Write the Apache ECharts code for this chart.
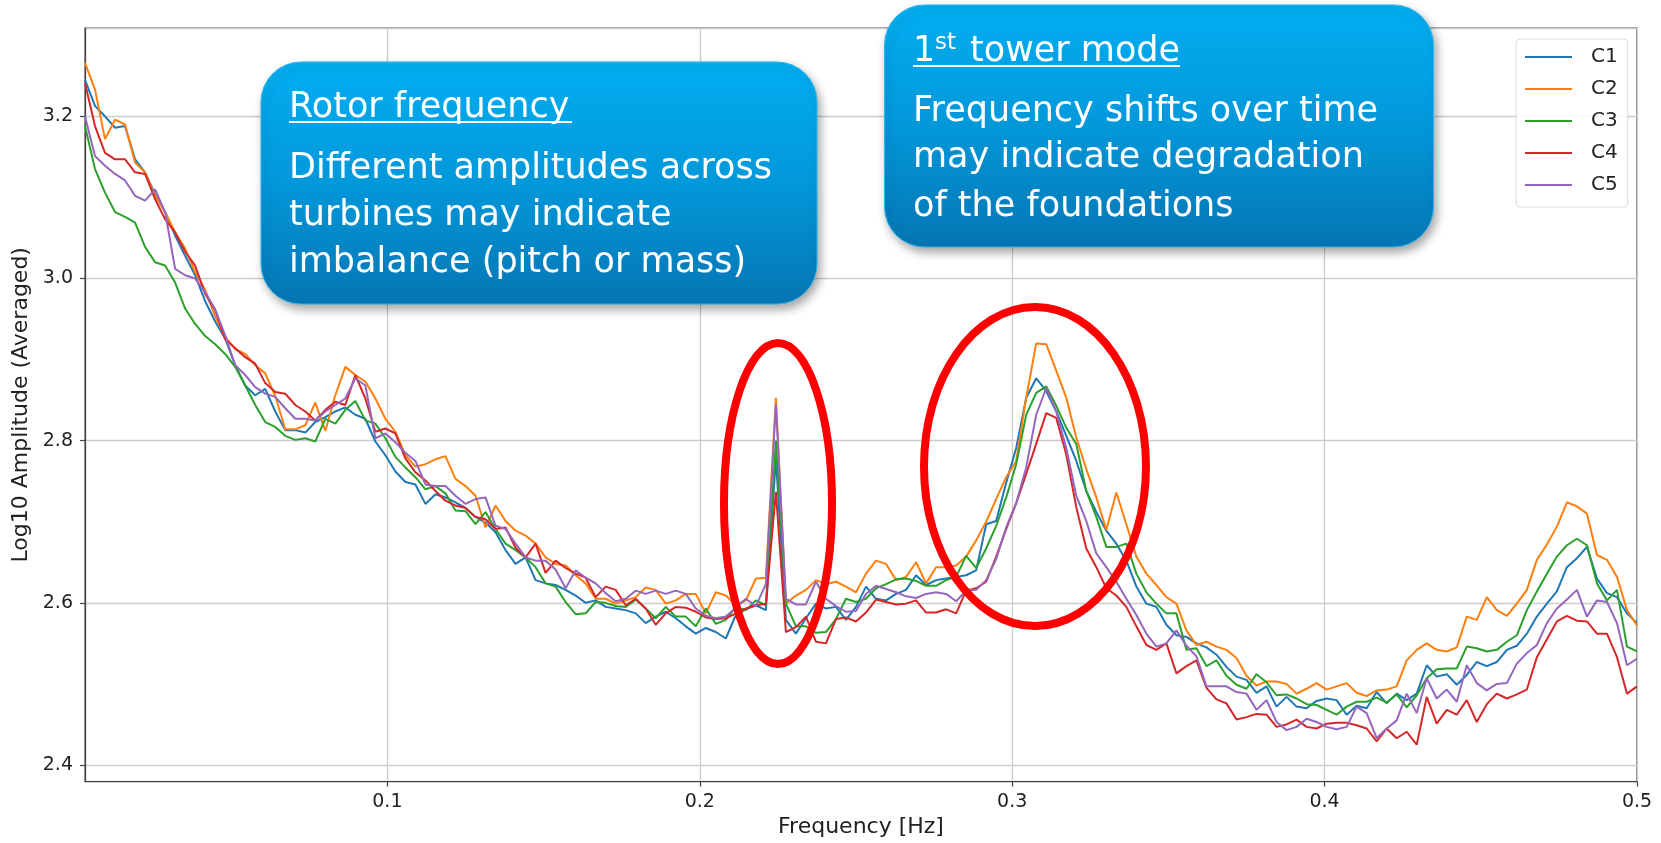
<!DOCTYPE html>
<html>
<head>
<meta charset="utf-8">
<script src="https://cdn.jsdelivr.net/npm/echarts@6/dist/echarts.min.js"></script>
<style>
html,body{margin:0;padding:0;background:#ffffff;}
#chart{width:1661px;height:843px;}
</style>
</head>
<body>
<div id="chart"></div>
<script>
// ---------------- data ----------------
const seriesNames = ['C1', 'C2', 'C3', 'C4', 'C5'];
const seriesColors = ['#1f77b4', '#ff7f0e', '#2ca02c', '#d62728', '#9467bd'];
const binWidth = 1 / 312;          // frequency resolution [Hz]
const xMax = 0.5;                   // Nyquist [Hz]

const C1 = [
3.245, 3.213, 3.200, 3.186, 3.188, 3.147, 3.131, 3.104, 3.082, 3.053,
3.028, 3.004, 2.972, 2.947, 2.926, 2.893, 2.868, 2.856, 2.864, 2.836,
2.813, 2.813, 2.810, 2.823, 2.829, 2.836, 2.841, 2.832, 2.827, 2.799,
2.782, 2.762, 2.749, 2.746, 2.722, 2.734, 2.730, 2.724, 2.717, 2.706,
2.699, 2.687, 2.665, 2.648, 2.656, 2.628, 2.624, 2.622, 2.616, 2.609,
2.600, 2.603, 2.595, 2.593, 2.591, 2.587, 2.575, 2.583, 2.589, 2.581,
2.571, 2.562, 2.569, 2.564, 2.556, 2.585, 2.592, 2.597, 2.591, 2.778,
2.579, 2.562, 2.581, 2.599, 2.593, 2.595, 2.579, 2.595, 2.620, 2.605,
2.603, 2.611, 2.616, 2.634, 2.622, 2.628, 2.630, 2.632, 2.634, 2.640,
2.697, 2.701, 2.748, 2.791, 2.853, 2.877, 2.861, 2.836, 2.806, 2.775,
2.738, 2.712, 2.689, 2.673, 2.652, 2.620, 2.599, 2.595, 2.573, 2.560,
2.558, 2.550, 2.545, 2.536, 2.521, 2.509, 2.505, 2.489, 2.497, 2.472,
2.484, 2.472, 2.470, 2.479, 2.482, 2.480, 2.462, 2.473, 2.470, 2.490,
2.476, 2.488, 2.480, 2.488, 2.523, 2.509, 2.512, 2.499, 2.511, 2.527,
2.522, 2.527, 2.542, 2.547, 2.562, 2.583, 2.599, 2.614, 2.644, 2.655,
2.669, 2.630, 2.612, 2.607, 2.587, 2.575
];
const C2 = [
3.266, 3.233, 3.172, 3.196, 3.190, 3.143, 3.131, 3.102, 3.082, 3.057,
3.037, 3.008, 2.986, 2.953, 2.928, 2.913, 2.907, 2.893, 2.883, 2.855,
2.814, 2.814, 2.819, 2.847, 2.812, 2.856, 2.891, 2.881, 2.873, 2.852,
2.827, 2.811, 2.782, 2.768, 2.771, 2.777, 2.781, 2.753, 2.744, 2.732,
2.693, 2.720, 2.701, 2.689, 2.683, 2.673, 2.656, 2.648, 2.646, 2.634,
2.624, 2.605, 2.605, 2.599, 2.603, 2.607, 2.619, 2.616, 2.599, 2.603,
2.611, 2.611, 2.587, 2.613, 2.609, 2.597, 2.603, 2.630, 2.631, 2.853,
2.599, 2.609, 2.616, 2.628, 2.623, 2.626, 2.620, 2.613, 2.636, 2.652,
2.648, 2.628, 2.632, 2.650, 2.624, 2.644, 2.644, 2.646, 2.657, 2.677,
2.700, 2.728, 2.755, 2.775, 2.853, 2.920, 2.919, 2.886, 2.853, 2.804,
2.765, 2.730, 2.690, 2.736, 2.697, 2.657, 2.636, 2.622, 2.607, 2.599,
2.566, 2.548, 2.552, 2.546, 2.542, 2.532, 2.510, 2.498, 2.503, 2.503,
2.500, 2.488, 2.494, 2.501, 2.493, 2.497, 2.501, 2.489, 2.485, 2.492,
2.493, 2.497, 2.529, 2.542, 2.550, 2.542, 2.540, 2.545, 2.583, 2.579,
2.607, 2.591, 2.584, 2.599, 2.616, 2.653, 2.672, 2.694, 2.724, 2.719,
2.710, 2.659, 2.653, 2.632, 2.591, 2.572
];
const C3 = [
3.188, 3.135, 3.106, 3.082, 3.076, 3.069, 3.039, 3.020, 3.016, 2.995,
2.963, 2.944, 2.929, 2.919, 2.907, 2.891, 2.868, 2.844, 2.823, 2.817,
2.806, 2.801, 2.803, 2.799, 2.827, 2.821, 2.838, 2.849, 2.825, 2.821,
2.803, 2.780, 2.767, 2.755, 2.740, 2.744, 2.735, 2.714, 2.713, 2.697,
2.712, 2.691, 2.673, 2.665, 2.656, 2.644, 2.624, 2.620, 2.601, 2.586,
2.587, 2.601, 2.600, 2.596, 2.595, 2.604, 2.593, 2.581, 2.595, 2.583,
2.583, 2.571, 2.593, 2.574, 2.579, 2.595, 2.591, 2.603, 2.597, 2.800,
2.599, 2.571, 2.571, 2.563, 2.564, 2.580, 2.605, 2.601, 2.605, 2.618,
2.623, 2.629, 2.630, 2.627, 2.621, 2.621, 2.628, 2.632, 2.658, 2.643,
2.667, 2.695, 2.730, 2.771, 2.832, 2.859, 2.867, 2.843, 2.816, 2.796,
2.738, 2.706, 2.669, 2.669, 2.673, 2.636, 2.613, 2.599, 2.587, 2.587,
2.542, 2.544, 2.522, 2.529, 2.510, 2.499, 2.494, 2.512, 2.502, 2.486,
2.487, 2.482, 2.475, 2.474, 2.468, 2.462, 2.472, 2.478, 2.478, 2.483,
2.477, 2.487, 2.471, 2.486, 2.507, 2.518, 2.519, 2.519, 2.546, 2.544,
2.540, 2.542, 2.552, 2.560, 2.591, 2.614, 2.636, 2.657, 2.671, 2.679,
2.671, 2.624, 2.603, 2.616, 2.546, 2.540
];
const C4 = [
3.241, 3.188, 3.155, 3.147, 3.147, 3.131, 3.129, 3.098, 3.073, 3.057,
3.033, 3.016, 2.981, 2.961, 2.925, 2.914, 2.903, 2.895, 2.871, 2.860,
2.858, 2.844, 2.836, 2.825, 2.838, 2.848, 2.844, 2.881, 2.852, 2.811,
2.815, 2.809, 2.778, 2.761, 2.751, 2.738, 2.726, 2.720, 2.717, 2.706,
2.703, 2.691, 2.693, 2.668, 2.656, 2.673, 2.637, 2.652, 2.643, 2.636,
2.631, 2.607, 2.620, 2.616, 2.597, 2.605, 2.593, 2.573, 2.587, 2.595,
2.594, 2.589, 2.582, 2.580, 2.581, 2.587, 2.593, 2.597, 2.599, 2.737,
2.564, 2.570, 2.583, 2.552, 2.550, 2.580, 2.582, 2.577, 2.588, 2.604,
2.601, 2.598, 2.599, 2.603, 2.588, 2.588, 2.592, 2.587, 2.615, 2.618,
2.626, 2.657, 2.691, 2.723, 2.759, 2.796, 2.834, 2.828, 2.783, 2.718,
2.667, 2.644, 2.618, 2.609, 2.595, 2.571, 2.548, 2.542, 2.550, 2.513,
2.522, 2.529, 2.495, 2.481, 2.476, 2.456, 2.459, 2.463, 2.462, 2.447,
2.450, 2.456, 2.447, 2.445, 2.451, 2.452, 2.452, 2.449, 2.445, 2.429,
2.445, 2.433, 2.441, 2.425, 2.484, 2.451, 2.468, 2.462, 2.480, 2.453,
2.475, 2.488, 2.482, 2.487, 2.493, 2.533, 2.555, 2.577, 2.584, 2.578,
2.577, 2.562, 2.562, 2.533, 2.488, 2.497
];
const C5 = [
3.200, 3.151, 3.139, 3.129, 3.121, 3.102, 3.096, 3.110, 3.082, 3.012,
3.004, 3.000, 2.983, 2.962, 2.930, 2.893, 2.881, 2.866, 2.858, 2.854,
2.840, 2.827, 2.827, 2.825, 2.836, 2.844, 2.852, 2.877, 2.868, 2.803,
2.809, 2.798, 2.785, 2.775, 2.746, 2.744, 2.744, 2.732, 2.722, 2.728,
2.730, 2.695, 2.691, 2.673, 2.656, 2.652, 2.652, 2.641, 2.618, 2.640,
2.631, 2.624, 2.612, 2.602, 2.605, 2.615, 2.611, 2.615, 2.611, 2.615,
2.611, 2.593, 2.584, 2.581, 2.583, 2.594, 2.605, 2.596, 2.623, 2.845,
2.605, 2.598, 2.598, 2.626, 2.605, 2.596, 2.589, 2.590, 2.611, 2.621,
2.617, 2.613, 2.608, 2.606, 2.611, 2.613, 2.611, 2.602, 2.615, 2.616,
2.628, 2.654, 2.693, 2.723, 2.767, 2.832, 2.865, 2.836, 2.791, 2.732,
2.701, 2.661, 2.644, 2.626, 2.605, 2.585, 2.562, 2.546, 2.550, 2.566,
2.547, 2.534, 2.497, 2.497, 2.497, 2.490, 2.488, 2.468, 2.480, 2.453,
2.443, 2.447, 2.457, 2.453, 2.447, 2.444, 2.447, 2.472, 2.464, 2.433,
2.445, 2.455, 2.488, 2.464, 2.507, 2.482, 2.493, 2.478, 2.523, 2.501,
2.492, 2.500, 2.501, 2.525, 2.538, 2.548, 2.575, 2.593, 2.604, 2.616,
2.583, 2.603, 2.601, 2.575, 2.523, 2.531
];
const seriesValues = [C1, C2, C3, C4, C5];
// frequency bins k * df, k = 1..N
const freqs = C1.map((_, i) => +((i + 1) * binWidth).toFixed(6));

const yMin = 2.3795, yMax = 3.309;

// ---------------- chart ----------------
const FONT = '"DejaVu Sans", Verdana, sans-serif';
const chart = echarts.init(document.getElementById('chart'), null, {renderer: 'canvas'});

const boxFill = {
  type: 'linear', x: 0, y: 0, x2: 0, y2: 1,
  colorStops: [
    {offset: 0, color: '#02aef1'},
    {offset: 0.5, color: '#0298da'},
    {offset: 1, color: '#0675b3'}
  ]
};
const boxStyle = {
  fill: boxFill, stroke: '#29b6f0', lineWidth: 1,
  shadowBlur: 10, shadowOffsetX: 3, shadowOffsetY: 5, shadowColor: 'rgba(0,0,0,0.35)'
};
function txt(x, y, s, size) {
  return {
    type: 'text', x: x, y: y, z: 101,
    style: {text: s, fill: '#ffffff', fontSize: size || 35, fontFamily: FONT,
            align: 'left', verticalAlign: 'middle', textAlign: 'left', textVerticalAlign: 'middle'}
  };
}
const tickRich = {t: {fontFamily: FONT, fontSize: 19, color: '#222', lineHeight: 22}};

const option = {
  animation: false,
  backgroundColor: '#ffffff',
  textStyle: {fontFamily: FONT},
  grid: {left: 85, right: 24, top: 28, bottom: 58, show: true, borderColor: '#444', borderWidth: 1.2, backgroundColor: 'transparent'},
  legend: {
    orient: 'vertical', left: 1516, top: 39,
    padding: [8, 10, 12, 8], itemGap: 12, itemWidth: 47, itemHeight: 14,
    backgroundColor: 'rgba(255,255,255,0.85)', borderColor: '#d9d9d9', borderWidth: 1, borderRadius: 4,
    itemStyle: {opacity: 0},
    textStyle: {fontFamily: FONT, fontSize: 20, color: '#222', padding: [0, 0, 0, 14], lineHeight: 20},
    data: seriesNames
  },
  xAxis: {
    type: 'value', min: freqs[0], max: xMax, splitNumber: 5,
    name: 'Frequency [Hz]', nameLocation: 'middle', nameGap: 32,
    nameTextStyle: {fontFamily: FONT, fontSize: 22, color: '#222'},
    axisLine: {show: true, lineStyle: {color: '#444', width: 1.2}},
    axisTick: {show: true, length: 5, lineStyle: {color: '#444', width: 1.2}},
    axisLabel: {fontFamily: FONT, fontSize: 19, color: '#222', margin: 9, showMinLabel: false, showMaxLabel: true,
                formatter: v => '{t|' + v.toFixed(1) + '}', rich: tickRich},
    splitLine: {show: true, lineStyle: {color: '#cccccc', width: 1.3}}
  },
  yAxis: {
    type: 'value', min: yMin, max: yMax, splitNumber: 5,
    name: 'Log10 Amplitude (Averaged)', nameLocation: 'middle', nameGap: 48,
    nameTextStyle: {fontFamily: FONT, fontSize: 22, color: '#222'},
    axisLine: {show: true, lineStyle: {color: '#444', width: 1.2}},
    axisTick: {show: true, length: 5, lineStyle: {color: '#444', width: 1.2}},
    axisLabel: {fontFamily: FONT, fontSize: 19, color: '#222', margin: 12, showMinLabel: false, showMaxLabel: false,
                formatter: v => '{t|' + v.toFixed(1) + '}', rich: tickRich},
    splitLine: {show: true, lineStyle: {color: '#cccccc', width: 1.3}}
  },
  series: seriesNames.map((n, si) => ({
    name: n, type: 'line',
    data: freqs.map((f, i) => [f, seriesValues[si][i]]),
    symbol: 'none', showSymbol: false,
    lineStyle: {width: 2, color: seriesColors[si]},
    itemStyle: {color: seriesColors[si]},
    emphasis: {disabled: true},
    z: 2 + si
  })),
  graphic: [
    // red highlight ellipses
    {type: 'ellipse', z: 102, shape: {cx: 778, cy: 503.5, rx: 54, ry: 160.5},
     style: {fill: 'none', stroke: '#ff0000', lineWidth: 8}},
    {type: 'ellipse', z: 102, shape: {cx: 1035, cy: 466.5, rx: 111, ry: 159.5},
     style: {fill: 'none', stroke: '#ff0000', lineWidth: 8}},
    // rotor frequency box
    {type: 'rect', z: 100, shape: {x: 261, y: 62, width: 556, height: 242, r: 40}, style: boxStyle},
    txt(289, 108, 'Rotor frequency'),
    {type: 'line', z: 101, shape: {x1: 289, y1: 122, x2: 572, y2: 122}, style: {stroke: '#fff', lineWidth: 2}},
    txt(289, 168.5, 'Different amplitudes across'),
    txt(289, 215.5, 'turbines may indicate'),
    txt(289, 262.5, 'imbalance (pitch or mass)'),
    // tower mode box
    {type: 'rect', z: 100, shape: {x: 884.5, y: 5, width: 549, height: 242, r: 40}, style: boxStyle},
    txt(913, 51.5, '1'),
    txt(935, 43, 'st', 23),
    txt(970, 51.5, 'tower mode'),
    {type: 'line', z: 101, shape: {x1: 913, y1: 66, x2: 1180, y2: 66}, style: {stroke: '#fff', lineWidth: 2}},
    txt(913, 111.5, 'Frequency shifts over time'),
    txt(913, 157.5, 'may indicate degradation'),
    txt(913, 206.5, 'of the foundations')
  ]
};
chart.setOption(option);
</script>
</body>
</html>
